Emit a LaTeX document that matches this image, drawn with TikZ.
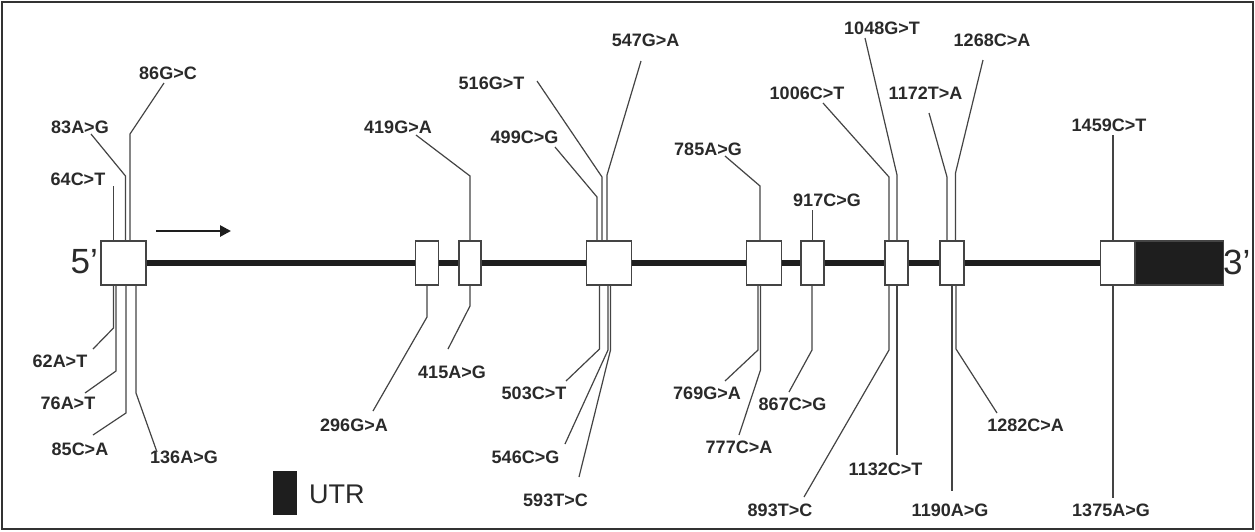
\documentclass[tikz,border=0pt]{standalone}
\usepackage{fontspec}
\setmainfont{Liberation Sans}
\usetikzlibrary{arrows.meta}
\definecolor{txt}{HTML}{2A2A2A}
\definecolor{ln}{HTML}{444444}
\definecolor{frm}{HTML}{333333}
\definecolor{utrc}{HTML}{1E1E1E}
\begin{document}
\begin{tikzpicture}[x=1pt,y=-1pt,
  lab/.style={font=\bfseries\fontsize{18}{18}\selectfont, text=txt, inner sep=0pt},
  exon/.style={draw=ln, fill=white, line width=1.3pt, minimum height=44pt, inner sep=0pt},
  snp/.style={draw=ln, line width=1.2pt},
  backbone/.style={draw=utrc, line width=5.5pt},
  endlab/.style={font=\fontsize{35}{35}\selectfont, text=txt, inner sep=0pt}]
\useasboundingbox (0,0) rectangle (1255,531);
\fill[white] (0,0) rectangle (1255,531);
\draw[frm, line width=2pt] (2,2) rectangle (1253,529);

% exons
\node[exon, minimum width=45pt] (b1) at (123.5,263) {};
\node[exon, minimum width=23pt] (b2) at (427.3,263) {};
\node[exon, minimum width=22pt] (b3) at (470,263) {};
\node[exon, minimum width=45pt] (b4) at (608.7,263) {};
\node[exon, minimum width=34.5pt] (b5) at (764,263) {};
\node[exon, minimum width=23pt] (b6) at (812.4,263) {};
\node[exon, minimum width=23pt] (b7) at (896.4,263) {};
\node[exon, minimum width=24pt] (b8) at (952,263) {};
\node[exon, minimum width=34pt] (b9) at (1117.5,263) {};
\node[exon, fill=utrc, minimum width=88pt, anchor=west] (b9u) at (b9.east) {};

% backbone
\draw[backbone] (b1.east) -- (b2.west);
\draw[backbone] (b2.east) -- (b3.west);
\draw[backbone] (b3.east) -- (b4.west);
\draw[backbone] (b4.east) -- (b5.west);
\draw[backbone] (b5.east) -- (b6.west);
\draw[backbone] (b6.east) -- (b7.west);
\draw[backbone] (b7.east) -- (b8.west);
\draw[backbone] (b8.east) -- (b9.west);

\node[endlab, anchor=east] (five) at (98,262) {5’};
\node[endlab, anchor=west] (three) at (1223,262) {3’};

% direction arrow
\coordinate (a0) at (156,231);
\coordinate (a1) at (231,231);
\draw[utrc, line width=2.6pt, -{Triangle[length=11pt,width=11pt]}] (a0) -- (a1);

% legend
\node[fill=utrc, minimum width=24pt, minimum height=44pt, inner sep=0pt] (key) at (285.3,492.6) {};
\node[font=\fontsize{27}{27}\selectfont, text=txt, inner sep=0pt, anchor=west] (keylab) at (309,494) {UTR};

% ---------- labels ----------
\node[lab] (l64) at (78,179) {64C>T};
\node[lab] (l83) at (80,127) {83A>G};
\node[lab] (l86) at (168,73) {86G>C};
\node[lab] (l62) at (60,361) {62A>T};
\node[lab] (l76) at (68,403) {76A>T};
\node[lab] (l85) at (80,449) {85C>A};
\node[lab] (l136) at (184,457) {136A>G};
\node[lab] (l296) at (354,425) {296G>A};
\node[lab] (l419) at (398,127) {419G>A};
\node[lab] (l415) at (452,372) {415A>G};
\node[lab] (l516) at (491.5,83) {516G>T};
\node[lab] (l499) at (524.5,137) {499C>G};
\node[lab] (l547) at (645.6,40) {547G>A};
\node[lab] (l503) at (534,393) {503C>T};
\node[lab] (l546) at (525.5,457) {546C>G};
\node[lab] (l593) at (555.5,500) {593T>C};
\node[lab] (l785) at (708,149) {785A>G};
\node[lab] (l769) at (707,393) {769G>A};
\node[lab] (l777) at (739,447) {777C>A};
\node[lab] (l917) at (827,200) {917C>G};
\node[lab] (l867) at (792.5,404) {867C>G};
\node[lab] (l1006) at (807,93) {1006C>T};
\node[lab] (l1048) at (882,28) {1048G>T};
\node[lab] (l893) at (780,510) {893T>C};
\node[lab] (l1132) at (885.5,469) {1132C>T};
\node[lab] (l1172) at (925.5,93) {1172T>A};
\node[lab] (l1268) at (992,40) {1268C>A};
\node[lab] (l1190) at (950,510) {1190A>G};
\node[lab] (l1282) at (1025.6,425) {1282C>A};
\node[lab] (l1459) at (1109,125) {1459C>T};
\node[lab] (l1375) at (1111,510) {1375A>G};

% ---------- connectors: upper ----------
\coordinate (s64) at (113.5,186);
\draw[snp] (s64) -- (s64 |- b1.north);
\coordinate (s83) at (91,134); \coordinate (v83) at (125.5,176);
\draw[snp] (s83) -- (v83) -- (v83 |- b1.north);
\coordinate (s86) at (164,83); \coordinate (v86) at (130,134);
\draw[snp] (s86) -- (v86) -- (v86 |- b1.north);
\coordinate (s419) at (416,135); \coordinate (v419) at (470,176);
\draw[snp] (s419) -- (v419) -- (v419 |- b3.north);
\coordinate (s516) at (537,81); \coordinate (v516) at (602,177);
\draw[snp] (s516) -- (v516) -- (v516 |- b4.north);
\coordinate (s499) at (555,147); \coordinate (v499) at (597,197);
\draw[snp] (s499) -- (v499) -- (v499 |- b4.north);
\coordinate (s547) at (641,61); \coordinate (v547) at (607,175);
\draw[snp] (s547) -- (v547) -- (v547 |- b4.north);
\coordinate (s785) at (725,156); \coordinate (v785) at (760,186);
\draw[snp] (s785) -- (v785) -- (v785 |- b5.north);
\coordinate (s917) at (812.5,210);
\draw[snp] (s917) -- (s917 |- b6.north);
\coordinate (s1006) at (823,103); \coordinate (v1006) at (889,177);
\draw[snp] (s1006) -- (v1006) -- (v1006 |- b7.north);
\coordinate (s1048) at (865,38); \coordinate (v1048) at (897,175);
\draw[snp] (s1048) -- (v1048) -- (v1048 |- b7.north);
\coordinate (s1172) at (929,113); \coordinate (v1172) at (947,177);
\draw[snp] (s1172) -- (v1172) -- (v1172 |- b8.north);
\coordinate (s1268) at (983,60); \coordinate (v1268) at (955.5,173);
\draw[snp] (s1268) -- (v1268) -- (v1268 |- b8.north);
\coordinate (s1459) at (1113,135);
\draw[snp] (s1459) -- (s1459 |- b9.north);

% ---------- connectors: lower ----------
\coordinate (v62) at (113.5,328); \coordinate (s62) at (93,349);
\draw[snp] (v62 |- b1.south) -- (v62) -- (s62);
\coordinate (v76) at (116,371); \coordinate (s76) at (85,393);
\draw[snp] (v76 |- b1.south) -- (v76) -- (s76);
\coordinate (v85) at (126,413); \coordinate (s85) at (93,435);
\draw[snp] (v85 |- b1.south) -- (v85) -- (s85);
\coordinate (v136) at (136,393); \coordinate (s136) at (157,452);
\draw[snp] (v136 |- b1.south) -- (v136) -- (s136);
\coordinate (v296) at (427,317); \coordinate (s296) at (373,411);
\draw[snp] (v296 |- b2.south) -- (v296) -- (s296);
\coordinate (v415) at (470,306); \coordinate (s415) at (448,349);
\draw[snp] (v415 |- b3.south) -- (v415) -- (s415);
\coordinate (v503) at (599.5,349); \coordinate (s503) at (566,381);
\draw[snp] (v503 |- b4.south) -- (v503) -- (s503);
\coordinate (v546) at (608,350); \coordinate (s546) at (565,444);
\draw[snp] (v546 |- b4.south) -- (v546) -- (s546);
\coordinate (v593) at (610.5,350); \coordinate (s593) at (579,477);
\draw[snp] (v593 |- b4.south) -- (v593) -- (s593);
\coordinate (v769) at (758,350); \coordinate (s769) at (725,381);
\draw[snp] (v769 |- b5.south) -- (v769) -- (s769);
\coordinate (v777) at (760.5,370); \coordinate (s777) at (739,435);
\draw[snp] (v777 |- b5.south) -- (v777) -- (s777);
\coordinate (v867) at (812,350); \coordinate (s867) at (789,392);
\draw[snp] (v867 |- b6.south) -- (v867) -- (s867);
\coordinate (v893) at (889,350); \coordinate (s893) at (804,497);
\draw[snp] (v893 |- b7.south) -- (v893) -- (s893);
\coordinate (s1132) at (897,455);
\draw[snp] (s1132 |- b7.south) -- (s1132);
\coordinate (s1190) at (952,491);
\draw[snp] (s1190 |- b8.south) -- (s1190);
\coordinate (v1282) at (956,349); \coordinate (s1282) at (997,413);
\draw[snp] (v1282 |- b8.south) -- (v1282) -- (s1282);
\coordinate (s1375) at (1113,498);
\draw[snp] (s1375 |- b9.south) -- (s1375);
\end{tikzpicture}
\end{document}
